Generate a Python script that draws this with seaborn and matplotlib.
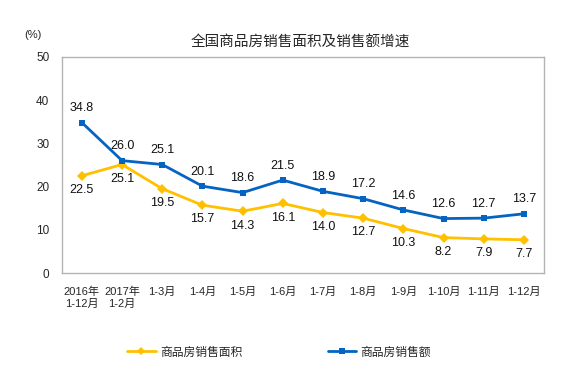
import pandas as pd
import matplotlib
matplotlib.use("Agg")
import matplotlib.pyplot as plt
import seaborn as sns

periods = ["2016年\n1-12月", "2017年\n1-2月", "1-3月", "1-4月", "1-5月", "1-6月",
           "1-7月", "1-8月", "1-9月", "1-10月", "1-11月", "1-12月"]
area = [22.5, 25.1, 19.5, 15.7, 14.3, 16.1, 14.0, 12.7, 10.3, 8.2, 7.9, 7.7]
amount = [34.8, 26.0, 25.1, 20.1, 18.6, 21.5, 18.9, 17.2, 14.6, 12.6, 12.7, 13.7]
series_names = ["商品房销售面积", "商品房销售额"]

sns.set_style("white")
plt.rcParams["font.family"] = ["Liberation Sans", "Noto Sans CJK SC", "DejaVu Sans"]

yellow = "#FFC000"
blue = "#0563C1"
frame = "#B4B4B4"

df = pd.DataFrame({
    "x": list(range(len(periods))) * 2,
    "value": area + amount,
    "series": [series_names[0]] * len(area) + [series_names[1]] * len(amount),
})

fig = plt.figure(figsize=(5.72, 3.69), dpi=100)
ax = fig.add_axes([0.108, 0.26, 0.843, 0.586])

sns.lineplot(data=df, x="x", y="value", hue="series", style="series",
             palette=[yellow, blue], markers=["D", "s"], dashes=False,
             markersize=5, markeredgewidth=0, linewidth=2, ax=ax, legend=False)

# data labels: blue above, yellow below
for i, (a, b) in enumerate(zip(area, amount)):
    ax.annotate(f"{b:.1f}", (i, b), xytext=(0, 6), textcoords="offset points",
                ha="center", va="bottom", fontsize=9, color="#111111")
    ax.annotate(f"{a:.1f}", (i, a), xytext=(0, -6), textcoords="offset points",
                ha="center", va="top", fontsize=9, color="#111111")

ax.set_xlim(-0.5, len(periods) - 0.5)
ax.set_ylim(0, 50)
ax.set_yticks(range(0, 51, 10))
ax.set_xticks(range(len(periods)))
ax.set_xticklabels(periods, fontsize=8, linespacing=1.2)
ax.set_xticks([i - 0.5 for i in range(len(periods) + 1)], minor=True)
ax.tick_params(axis="x", which="major", length=0, pad=10)
ax.tick_params(axis="x", which="minor", direction="in", length=4, color=frame, width=0.8)
ax.tick_params(axis="y", direction="in", length=4, color=frame, width=0.8, labelsize=8.5, pad=9)
ax.set_xlabel("")
ax.set_ylabel("")

for side in ["top", "right", "left", "bottom"]:
    ax.spines[side].set_color(frame)
    ax.spines[side].set_linewidth(1)

fig.text(0.525, 0.883, "全国商品房销售面积及销售额增速", ha="center", va="center", fontsize=10.5)
fig.text(0.058, 0.905, "(%)", ha="center", va="center", fontsize=8)

handles = [plt.Line2D([], [], color=yellow, marker="D", markersize=4, lw=2, markeredgewidth=0),
           plt.Line2D([], [], color=blue, marker="s", markersize=5, lw=2, markeredgewidth=0)]
fig.legend(handles, series_names, loc="center", bbox_to_anchor=(0.488, 0.045), ncol=2,
           frameon=False, fontsize=8.5, columnspacing=7.2, handlelength=2.4, handletextpad=0.4)

fig.savefig("out.png", dpi=100)
